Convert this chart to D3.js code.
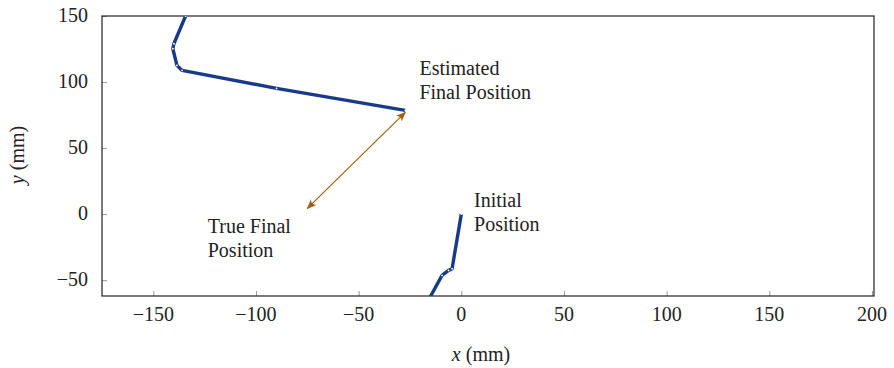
<!DOCTYPE html>
<html>
<head>
<meta charset="utf-8">
<script src="https://cdn.jsdelivr.net/npm/d3@7"></script>
<style>
  body { margin: 0; background: #fff; }
  svg text { font-family: "Liberation Serif", "DejaVu Serif", serif; fill: #222; }
</style>
</head>
<body>
<figure id="plot" style="margin:0"></figure>
<script>
// trajectory estimated from the sensors (mm)
const estX = [-134.3, -140, -140.5, -138.5, -136, -90, -27.3];
const estY = [150, 129, 125.2, 112.6, 108.8, 95.2, 78.5];
// start of the trajectory, near the initial position
const initX = [0, -4.5, -6.2, -9.4, -17];
const initY = [0, -41.3, -42.6, -46.4, -68];
// error arrow: estimated end -> true end
const arrowX = [-27.3, -75];
const arrowY = [77, 4.3];

const xTicks = [-150, -100, -50, 0, 50, 100, 150, 200];
const yTicks = [-50, 0, 50, 100, 150];

const labels = [
  {x: -20.4, y: 105, lines: ["Estimated", "Final Position"]},
  {x: 6.2, y: 5.5, lines: ["Initial", "Position"]},
  {x: -123.5, y: -14.5, lines: ["True Final", "Position"]}
];

const W = 894, H = 368;
const margin = {top: 16, right: 20, bottom: 72, left: 102};
const width = W - margin.left - margin.right;
const height = H - margin.top - margin.bottom;

const svg = d3.select("figure#plot")
  .append("svg")
  .attr("width", W)
  .attr("height", H);

const g = svg.append("g")
  .attr("transform", "translate(" + margin.left + "," + margin.top + ")");

const x = d3.scaleLinear().domain([-175, 201]).range([0, width]);
const y = d3.scaleLinear().domain([-62, 150]).range([height, 0]);

svg.append("defs").append("clipPath").attr("id", "clip")
  .append("rect").attr("width", width).attr("height", height);

// ticks, inside the box
g.append("g")
  .attr("transform", "translate(0," + height + ")")
  .call(d3.axisBottom(x).tickValues(xTicks).tickSize(-5).tickFormat(""))
  .call(a => a.select(".domain").remove())
  .selectAll("line").attr("stroke", "#999");
g.append("g")
  .call(d3.axisLeft(y).tickValues(yTicks).tickSize(-5).tickFormat(""))
  .call(a => a.select(".domain").remove())
  .selectAll("line").attr("stroke", "#999");

// tick labels (unicode minus)
const fmt = d => d < 0 ? "\u2212" + Math.abs(d) : String(d);
g.selectAll(".xl").data(xTicks).enter().append("text")
  .attr("x", d => x(d))
  .attr("y", height + 25)
  .attr("text-anchor", "middle")
  .attr("font-size", 20)
  .text(fmt);
g.selectAll(".yl").data(yTicks).enter().append("text")
  .attr("x", -14)
  .attr("y", d => y(d) + 6)
  .attr("text-anchor", "end")
  .attr("font-size", 20)
  .text(fmt);

// frame
g.append("rect")
  .attr("width", width).attr("height", height)
  .attr("fill", "none").attr("stroke", "#222").attr("stroke-width", 1.2);

const plot = g.append("g").attr("clip-path", "url(#clip)");
const line = d3.line().x(d => x(d[0])).y(d => y(d[1]));

const est = d3.zip(estX, estY);
const init = d3.zip(initX, initY);

[est, init].forEach(pts => {
  plot.append("path")
    .attr("d", line(pts))
    .attr("fill", "none")
    .attr("stroke", "#183a88")
    .attr("stroke-width", 3.4)
    .attr("stroke-linejoin", "round");
  plot.selectAll(null).data(pts).enter().append("circle")
    .attr("cx", d => x(d[0])).attr("cy", d => y(d[1]))
    .attr("r", 0.9).attr("fill", "#fff");
});

// arrow with heads on both ends
const defs = svg.select("defs");
["start", "end"].forEach(k => {
  defs.append("marker")
    .attr("id", "ah-" + k)
    .attr("viewBox", "0 0 10 10")
    .attr("refX", 9).attr("refY", 5)
    .attr("markerWidth", 10).attr("markerHeight", 10)
    .attr("markerUnits", "userSpaceOnUse")
    .attr("orient", k === "start" ? "auto-start-reverse" : "auto")
    .append("path")
    .attr("d", "M0,1 Q4,5 0,9 L10,5 Z")
    .attr("fill", "#a0600f");
});
plot.append("line")
  .attr("x1", x(arrowX[0])).attr("y1", y(arrowY[0]))
  .attr("x2", x(arrowX[1])).attr("y2", y(arrowY[1]))
  .attr("stroke", "#a0600f").attr("stroke-width", 1.2)
  .attr("marker-start", "url(#ah-start)")
  .attr("marker-end", "url(#ah-end)");

// annotations
labels.forEach(l => {
  const t = g.append("text")
    .attr("x", x(l.x)).attr("y", y(l.y))
    .attr("font-size", 20);
  l.lines.forEach((s, i) => {
    t.append("tspan").attr("x", x(l.x)).attr("dy", i ? 24 : 0).text(s);
  });
});

// axis titles
const xt = svg.append("text")
  .attr("x", 481).attr("y", 361)
  .attr("text-anchor", "middle").attr("font-size", 20);
xt.append("tspan").attr("font-style", "italic").text("x");
xt.append("tspan").text(" (mm)");

const yt = svg.append("text")
  .attr("transform", "translate(24,155) rotate(-90)")
  .attr("text-anchor", "middle").attr("font-size", 20);
yt.append("tspan").attr("font-style", "italic").text("y");
yt.append("tspan").text(" (mm)");
</script>
</body>
</html>
